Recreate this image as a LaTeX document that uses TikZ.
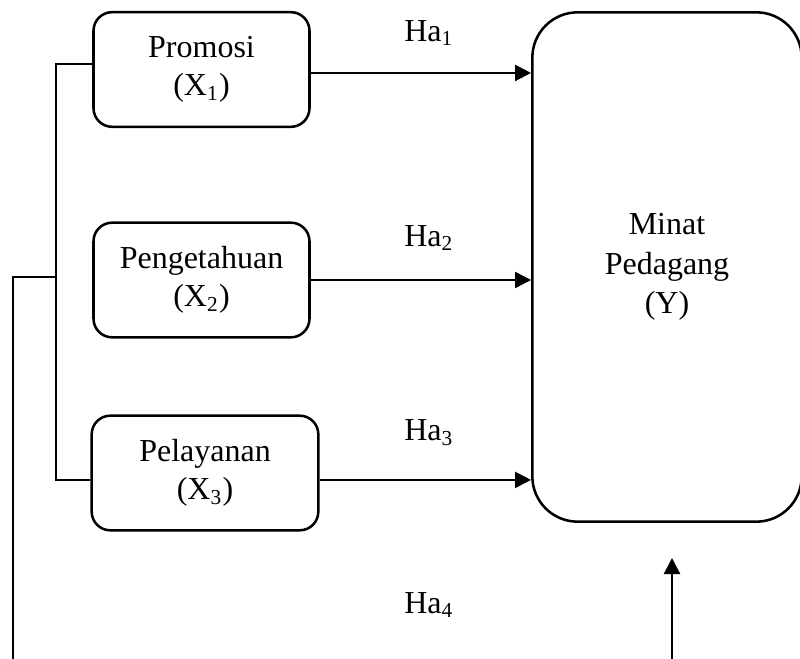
\documentclass[tikz,border=0pt]{standalone}
\usepackage{fontspec}
\setmainfont{Liberation Serif}
\usetikzlibrary{arrows.meta}

\tikzset{
	varbox/.style={draw, line width=0.95pt, rounded corners=7pt, align=center,
		minimum width=81pt, minimum height=43pt, font=\fontsize{12}{14.3}\selectfont},
	link/.style={line width=0.8pt},
	arr/.style={line width=0.8pt, -{Triangle[length=6pt,width=6pt]}},
	halabel/.style={font=\fontsize{12}{14}\selectfont}
}

\begin{document}
\begin{tikzpicture}[x=0.375pt, y=-0.375pt]
			%%%%% START %%%%%
			
			\clip (0, 0) rectangle (800, 659);
			
			\node[varbox] (x1) at (201.5, 69.5) {Promosi\\(X\textsubscript{1})};
			\node[varbox] (x2) at (201.5, 280) {Pengetahuan\\(X\textsubscript{2})};
			\node[varbox, minimum width=85pt] (x3) at (205, 473) {Pelayanan\\(X\textsubscript{3})};
			
			\node[varbox, rounded corners=17pt, minimum width=101pt, minimum height=191pt,
				font=\fontsize{12}{14.8}\selectfont] (y) at (667, 267) {Minat\\Pedagang\\(Y)};
			
			\draw[arr] ([yshift=-1.3pt]x1.east) -- ([yshift=-1.3pt]x1.east -| y.west);
			\draw[arr] (x2.east) -- (x2.east -| y.west);
			\draw[arr] ([yshift=-2.6pt]x3.east) -- ([yshift=-2.6pt]x3.east -| y.west);
			
			\node[halabel] (ha1) at (429, 33) {Ha\textsubscript{1}};
			\node[halabel] (ha2) at (429, 238) {Ha\textsubscript{2}};
			\node[halabel] (ha3) at (429, 433) {Ha\textsubscript{3}};
			\node[halabel] (ha4) at (429, 605) {Ha\textsubscript{4}};
			
			% bracket on the left
			\coordinate (b1) at (56, 64);
			\coordinate (b3) at (56, 480);
			\draw[link] (x1.west |- b1) -- (b1) -- (b3) -- (x3.west |- b3);
			
			\coordinate (o) at (13, 277);
			\coordinate (ob) at (13, 659);
			\draw[link] (b1 |- o) -- (o) -- (ob);
			
			\coordinate (ub) at (672, 659);
			\coordinate (ut) at (672, 558);
			\draw[arr] (ub) -- (ut);
			
			%%%%% END %%%%%
\end{tikzpicture}
\end{document}
